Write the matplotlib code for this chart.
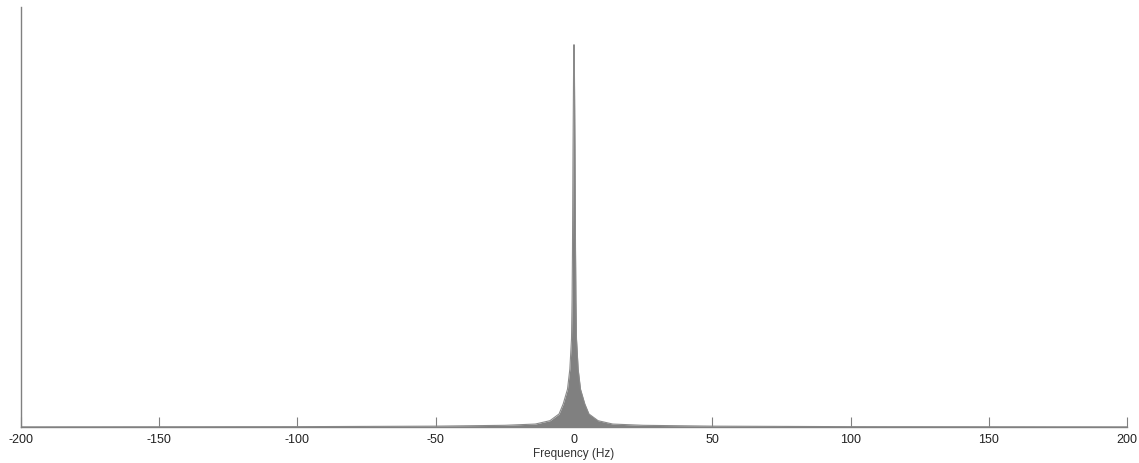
import matplotlib
matplotlib.use("Agg")
import matplotlib.pyplot as plt
import numpy as np

# spectrum magnitude (normalised, axis top = 1)
freq = [-200, -100, -50, -25, -14, -8.7, -5.4, -3.9, -2.35, -1.5, -0.9,
        -0.7, -0.55, -0.35, -0.15, 0,
        0.15, 0.35, 0.55, 0.7,
        0.9, 1.5, 2.35, 3.9, 5.4, 8.7, 14, 25, 50, 100, 200]
mag = [0.0003, 0.0008, 0.002, 0.004, 0.007, 0.015, 0.031, 0.055, 0.09, 0.138, 0.21,
       0.30, 0.42, 0.66, 0.85, 0.91,
       0.85, 0.66, 0.42, 0.30,
       0.21, 0.138, 0.09, 0.055, 0.031, 0.015, 0.007, 0.004, 0.002, 0.0008, 0.0003]
xticks = [-200, -150, -100, -50, 0, 50, 100, 150, 200]

plt.rcParams['font.family'] = ['Liberation Sans', 'DejaVu Sans']
plt.rcParams['axes.unicode_minus'] = False

fig = plt.figure(figsize=(11.39, 4.64), dpi=100)
ax = fig.add_axes([0.0184, 0.0776, 0.9711, 0.9054])

grey = '#808080'
ax.fill_between(freq, 0, mag, color=grey, linewidth=0)
ax.plot(freq, mag, color='#8a8a8a', linewidth=0.8)

ax.set_xlim(-200, 200)
ax.set_ylim(0, 1)
ax.set_xticks(xticks)
ax.set_yticks([])
ax.set_xlabel('Frequency (Hz)', fontsize=8.5, labelpad=2, color='#333333')

for side in ['top', 'right']:
    ax.spines[side].set_visible(False)
for side in ['left', 'bottom']:
    ax.spines[side].set_color(grey)
    ax.spines[side].set_linewidth(1.0)
ax.tick_params(axis='x', direction='in', length=7, width=0.8, color=grey,
               labelsize=9, labelcolor='#222222', pad=4)

fig.savefig('out.png', dpi=100)
